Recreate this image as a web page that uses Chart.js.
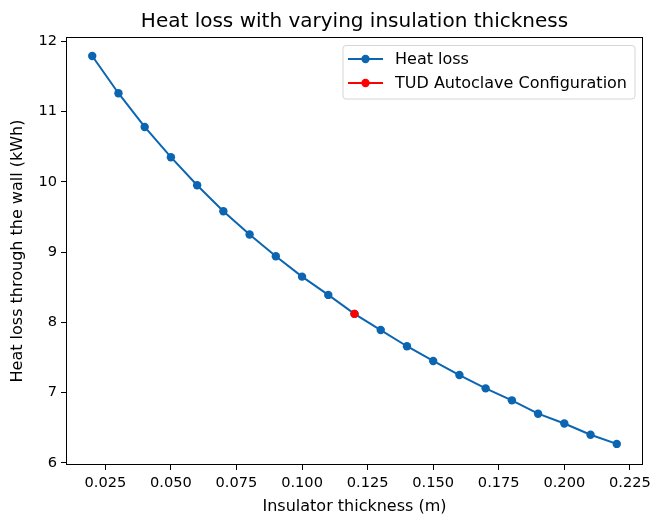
<!DOCTYPE html>
<html>
<head>
<meta charset="utf-8">
<script src="https://cdn.jsdelivr.net/npm/chart.js@4.4.1/dist/chart.umd.min.js"></script>
<style>
  body { margin: 0; background: #fff; }
  #wrap { width: 651px; height: 519px; }
</style>
</head>
<body>
<div id="wrap"><canvas id="grafico" width="651" height="519"></canvas></div>
<script>
// dados
const espessura = [0.02, 0.03, 0.04, 0.05, 0.06, 0.07, 0.08, 0.09, 0.10, 0.11, 0.12,
                   0.13, 0.14, 0.15, 0.16, 0.17, 0.18, 0.19, 0.20, 0.21, 0.22];
const perdaCalor = [11.79, 11.26, 10.78, 10.35, 9.95, 9.58, 9.25, 8.94, 8.65, 8.39, 8.12,
                    7.89, 7.66, 7.45, 7.25, 7.06, 6.89, 6.70, 6.56, 6.40, 6.27];
const tudEspessura = [0.12];
const tudPerda = [8.12];
const xTicks = [0.025, 0.05, 0.075, 0.1, 0.125, 0.15, 0.175, 0.2, 0.225];
const yTicks = [6, 7, 8, 9, 10, 11, 12];

const azul = '#0b65b1';
const vermelho = '#ff0000';
const fonte = 'DejaVu Sans';

// moldura, título e legenda no estilo matplotlib
const extras = {
  id: 'extras',
  afterDatasetsDraw(chart) {
    const ctx = chart.ctx;
    const a = chart.chartArea;
    ctx.save();
    ctx.strokeStyle = '#000';
    ctx.lineWidth = 1;
    ctx.strokeRect(Math.round(a.left) + 0.5, Math.round(a.top) + 0.5,
                   Math.round(a.right - a.left) - 1, Math.round(a.bottom - a.top) - 1);

    ctx.fillStyle = '#000';
    ctx.font = '20px "' + fonte + '"';
    ctx.textAlign = 'center';
    ctx.textBaseline = 'alphabetic';
    ctx.fillText('Heat loss with varying insulation thickness', (a.left + a.right) / 2, 27);

    // legenda
    ctx.font = '16px "' + fonte + '"';
    const ds = chart.data.datasets;
    let tw = 0;
    ds.forEach(d => { tw = Math.max(tw, ctx.measureText(d.label).width); });
    const w = 52 + tw + 8;
    const right = a.right - 8;
    const left = right - w;
    const top = a.top + 8.5;
    const h = 53.5;
    ctx.beginPath();
    ctx.roundRect(left, top, w, h, 3);
    ctx.fillStyle = 'rgba(255,255,255,0.8)';
    ctx.fill();
    ctx.strokeStyle = '#d6d6d6';
    ctx.lineWidth = 1;
    ctx.stroke();
    ds.forEach((d, i) => {
      const y = top + 13.5 + i * 24;
      ctx.strokeStyle = d.borderColor;
      ctx.lineWidth = 2;
      ctx.beginPath();
      ctx.moveTo(left + 5, y);
      ctx.lineTo(left + 40, y);
      ctx.stroke();
      ctx.fillStyle = d.pointBackgroundColor;
      ctx.beginPath();
      ctx.arc(left + 22.5, y, 4.2, 0, Math.PI * 2);
      ctx.fill();
      ctx.fillStyle = '#000';
      ctx.textAlign = 'left';
      ctx.textBaseline = 'middle';
      ctx.fillText(d.label, left + 52, y + 1);
    });
    ctx.restore();
  }
};

const ctx = document.getElementById('grafico').getContext('2d');
new Chart(ctx, {
  type: 'line',
  data: {
    datasets: [{
      label: 'Heat loss',
      data: espessura.map((x, i) => ({ x: x, y: perdaCalor[i] })),
      borderColor: azul,
      backgroundColor: azul,
      pointBackgroundColor: azul,
      pointBorderColor: azul,
      borderWidth: 2,
      pointRadius: 4.2,
      pointBorderWidth: 0,
      order: 2
    }, {
      label: 'TUD Autoclave Configuration',
      data: tudEspessura.map((x, i) => ({ x: x, y: tudPerda[i] })),
      borderColor: vermelho,
      backgroundColor: vermelho,
      pointBackgroundColor: vermelho,
      pointBorderColor: vermelho,
      borderWidth: 2,
      pointRadius: 4.2,
      pointBorderWidth: 0,
      order: 1
    }]
  },
  options: {
    responsive: false,
    animation: false,
    layout: { padding: { top: 37, right: 8, left: 0, bottom: 0 } },
    plugins: {
      legend: { display: false },
      tooltip: { enabled: false },
      title: { display: false }
    },
    scales: {
      x: {
        type: 'linear',
        min: 0.01,
        max: 0.23,
        afterFit(s) { s.height = 54; s.paddingLeft = 0; s.paddingRight = 0; },
        afterBuildTicks(s) { s.ticks = xTicks.map(v => ({ value: v })); },
        grid: { drawOnChartArea: false, drawTicks: true, tickLength: 5, color: '#000' },
        border: { display: false },
        ticks: {
          color: '#000',
          font: { family: fonte, size: 14.6 },
          padding: 4,
          maxRotation: 0,
          autoSkip: false,
          callback: v => v.toFixed(3)
        },
        title: {
          display: true,
          text: 'Insulator thickness (m)',
          color: '#000',
          font: { family: fonte, size: 16 },
          padding: { top: 0, bottom: 2.5 }
        }
      },
      y: {
        type: 'linear',
        min: 5.97,
        max: 12.06,
        afterFit(s) { s.width = 66; s.paddingTop = 0; s.paddingBottom = 0; },
        afterBuildTicks(s) { s.ticks = yTicks.map(v => ({ value: v })); },
        grid: { drawOnChartArea: false, drawTicks: true, tickLength: 5, color: '#000' },
        border: { display: false },
        ticks: {
          color: '#000',
          font: { family: fonte, size: 14.6 },
          padding: 4,
          autoSkip: false,
          callback: v => String(v)
        },
        title: {
          display: true,
          text: 'Heat loss through the wall (kWh)',
          color: '#000',
          font: { family: fonte, size: 16 },
          padding: { top: 8.5, bottom: 0 }
        }
      }
    }
  },
  plugins: [extras]
});
</script>
</body>
</html>
